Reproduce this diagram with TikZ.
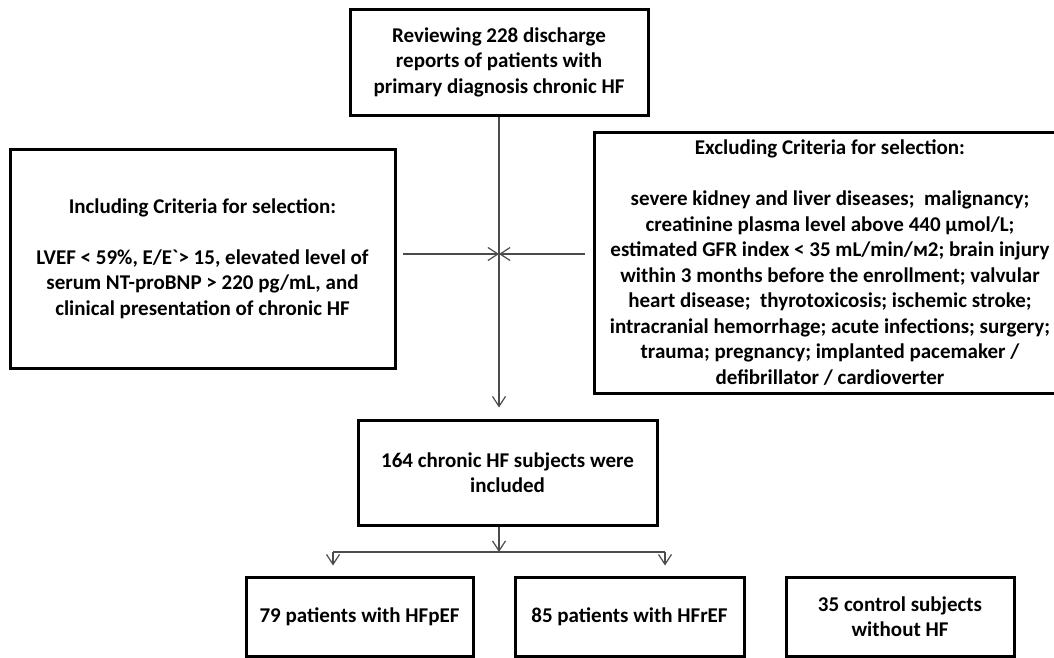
\documentclass[tikz,border=0pt]{standalone}
\usepackage{fontspec}
\setmainfont{Carlito}
\usetikzlibrary{arrows.meta}
\begin{document}
\begin{tikzpicture}[x=1pt,y=-1pt,
  box/.style={draw=black,line width=3pt,align=center,inner sep=0pt,
    font=\bfseries\fontsize{21}{25.5}\selectfont},
  conn/.style={draw=black!70,line width=1.2pt},
  arr/.style={conn,-{Straight Barb[length=10pt,width=13pt]}}]
\useasboundingbox (0,0) rectangle (1054,657);

\node[box,minimum width=298pt,minimum height=106pt] (top) at (499,62)
  {Reviewing 228 discharge\\reports of patients with\\primary diagnosis chronic HF};

\node[box,minimum width=385pt,minimum height=219pt] (incl) at (202.5,258.5)
  {Including Criteria for selection:\\[25.5pt]
   LVEF < 59\%, E/E{\addfontfeature{Ligatures=TeXOff}`}> 15, elevated level of\\
   serum NT-proBNP > 220 pg/mL, and\\
   clinical presentation of chronic HF};

\node[box,minimum width=472pt,minimum height=261pt] (excl) at (830,262.5)
  {Excluding Criteria for selection:\\[25.5pt]
   severe kidney and liver diseases;\ \ malignancy;\\
   creatinine plasma level above 440 µmol/L;\\
   estimated GFR index < 35 mL/min/м2; brain injury\\
   within 3 months before the enrollment; valvular\\
   heart disease;\ \ thyrotoxicosis; ischemic stroke;\\
   intracranial hemorrhage; acute infections; surgery;\\
   trauma; pregnancy; implanted pacemaker /\\
   defibrillator / cardioverter};

\node[box,minimum width=299pt,minimum height=105pt] (mid) at (507.5,472.5)
  {164 chronic HF subjects were\\included};

\node[box,minimum width=227pt,minimum height=79pt] (b1) at (359.5,616.5)
  {79 patients with HFpEF};
\node[box,minimum width=229pt,minimum height=79pt] (b2) at (629.5,616.5)
  {85 patients with HFrEF};
\node[box,minimum width=228pt,minimum height=79pt] (b3) at (900,616.5)
  {35 control subjects\\without HF};

\coordinate (cx) at (499,254);
\coordinate (inL) at (403,254);
\coordinate (inR) at (585,254);
\coordinate (split) at (499,552);
\coordinate (bl) at (333,552);
\coordinate (br) at (665,552);

\draw[arr,shorten >=11pt] (top.south) -- (top.south |- mid.north);
\draw[arr] (inL) -- (cx);
\draw[arr] (inR) -- (cx);
\draw[arr] (split |- mid.south) -- (split);
\draw[conn] (bl) -- (br);
\draw[arr,shorten >=10pt] (bl) -- (bl |- b1.north);
\draw[arr,shorten >=10pt] (br) -- (br |- b2.north);
\end{tikzpicture}
\end{document}
